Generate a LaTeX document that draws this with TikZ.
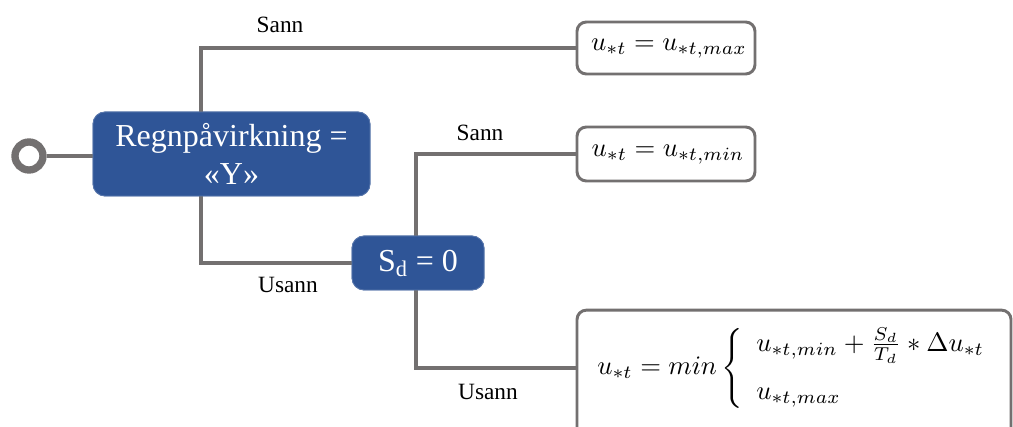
\documentclass[tikz,border=0pt]{standalone}
\usepackage{fontspec}
\usepackage{graphicx}
\setmainfont{Liberation Serif}
\usetikzlibrary{calc}
\definecolor{boxblue}{RGB}{47,85,151}
\definecolor{linegray}{RGB}{115,112,112}
\newcommand{\bigmath}[1]{\scalebox{2.0}{$#1$}}
\begin{document}
\begin{tikzpicture}[x=0.75pt,y=-0.75pt,
  conn/.style={draw=linegray,line width=3pt},
  bluebox/.style={fill=boxblue,draw=boxblue!80!white,line width=0.6pt,rounded corners=9pt,text=white,align=center,font=\fontsize{24}{29}\selectfont,inner sep=0pt},
  whitebox/.style={fill=white,draw=linegray,line width=2.2pt,rounded corners=7pt,inner sep=0pt},
  lbl/.style={font=\fontsize{17.5}{20}\selectfont,inner sep=0pt},
  mth/.style={inner sep=0pt}]
\clip (0,0) rectangle (1013,427);
\fill[white] (0,0) rectangle (1013,427);
% nodes
\node[bluebox,minimum width=207.75pt,minimum height=63pt] (main) at (231.5,154) {Regnpåvirkning =\\«Y»};
\node[bluebox,minimum width=99pt,minimum height=40.5pt] (sd) at (418,263) {S\textsubscript{d} = 0};
\node[whitebox,minimum width=133.5pt,minimum height=39pt] (b1) at (666,48) {};
\node[whitebox,minimum width=133.5pt,minimum height=40.5pt] (b2) at (666,154) {};
\node[whitebox,minimum width=325.5pt,minimum height=101pt] (b3) at (794,377.5) {};
\node[mth] (t1) at (669,49) {\bigmath{u_{*t}=u_{*t,max}}};
\node[mth] (t2) at (668,155) {\bigmath{u_{*t}=u_{*t,min}}};
\node[mth,anchor=west] (t3) at (597,368) {\bigmath{u_{*t}=min\left\{\begin{array}{l}u_{*t,min}+\frac{S_d}{T_d}*\Delta u_{*t}\\[6pt] u_{*t,max}\end{array}\right.}};
% start circle
\node[circle,draw=linegray,line width=5.5pt,minimum size=21pt,inner sep=0pt,fill=white] (c) at (29,156) {};
% connectors
\draw[conn] (c.east) -- (c -| main.west);
\coordinate (mtop) at ($(main.north west)!0.39!(main.north east)$);
\coordinate (mbot) at ($(main.south west)!0.39!(main.south east)$);
\draw[conn] (mtop) |- (b1.west);
\draw[conn] (mbot) |- (sd.west);
\draw[conn] ([xshift=-1.5pt]sd.north) |- (b2.west);
\draw[conn] ([xshift=-1.5pt]sd.south) |- (b3.west |- t3);
% redraw boxes over connector ends
\node[bluebox,minimum width=207.75pt,minimum height=63pt] at (main) {Regnpåvirkning =\\«Y»};
\node[bluebox,minimum width=99pt,minimum height=40.5pt] at (sd) {S\textsubscript{d} = 0};
% labels
\node[lbl] (l1) at (280,25) {Sann};
\node[lbl] (l2) at (288,285) {Usann};
\node[lbl] (l3) at (480,133) {Sann};
\node[lbl] (l4) at (488,392) {Usann};
\end{tikzpicture}
\end{document}
